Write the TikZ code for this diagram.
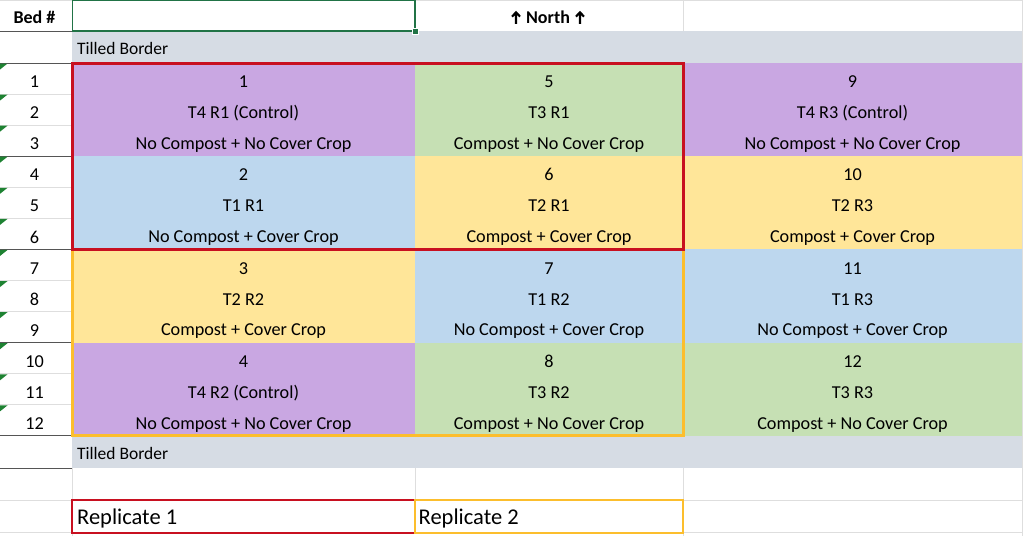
\documentclass[tikz,border=0pt]{standalone}
\usepackage{fontspec}
\setmainfont{Carlito}
\definecolor{cpurple}{RGB}{201,167,226}
\definecolor{cgreen}{RGB}{198,224,180}
\definecolor{cblue}{RGB}{189,215,238}
\definecolor{cyellow}{RGB}{255,230,153}
\definecolor{cband}{RGB}{214,220,228}
\definecolor{cred}{RGB}{200,16,32}
\definecolor{corange}{RGB}{252,190,45}
\definecolor{selgreen}{RGB}{33,115,70}
\definecolor{tri}{RGB}{30,130,50}
\definecolor{gridc}{RGB}{222,222,222}
\definecolor{darkc}{RGB}{85,85,85}
\newcommand\plotblock[8]{%
  \pgfmathsetmacro\yt{63+(#4-1)*93.24}%
  \pgfmathsetmacro\yb{\yt+93.24}%
  \pgfmathsetmacro\xc{(#2+#3)/2}%
  \fill[#5] (#2,\yt) rectangle (#3,\yb);
  \node[celltext] (#1a) at (\xc,\yt+24.6) {#6};
  \node[celltext] (#1b) at (\xc,\yt+55.6) {#7};
  \node[celltext] (#1c) at (\xc,\yt+86.5) {#8};
}
\newcommand\uparr{\tikz[baseline=0pt]{\draw[line width=2.1pt,line cap=butt,line join=miter] (0pt,0pt) -- (0pt,11.5pt) (-4pt,7.2pt) -- (0pt,11.5pt) -- (4pt,7.2pt);}}
\begin{document}
\begin{tikzpicture}[x=1pt,y=-1pt,
  celltext/.style={anchor=base,inner sep=0pt,font=\fontsize{18.2}{20}\selectfont},
  bandtext/.style={anchor=base west,inner sep=0pt,font=\fontsize{17.5}{20}\selectfont},
  reptext/.style={anchor=base west,inner sep=0pt,font=\fontsize{22.5}{24}\selectfont},
  headtext/.style={anchor=base,inner sep=0pt,font=\fontsize{18}{20}\selectfont\bfseries},
  gridline/.style={draw=gridc,line width=0.8pt},
  darkline/.style={draw=darkc,line width=1pt},
  repbox/.style={line width=1.6pt},
  bigbox/.style={line width=3pt}]
\useasboundingbox (0,0) rectangle (1024,536);
\fill[white] (0,0) rectangle (1024,536);
% light grid
\draw[gridline] (0,0.5) -- (1022,0.5);
\draw[gridline] (72,0) -- (72,536);
\draw[gridline] (415,468) -- (415,500);
\draw[gridline] (683,0) -- (683,31);
\draw[gridline] (683,468) -- (683,536);
\draw[gridline] (1022,0) -- (1022,536);
\draw[gridline] (0,500) -- (1022,500);
\draw[gridline] (0,532.5) -- (1022,532.5);
\foreach \i in {1,...,12}{
  \pgfmathsetmacro\ry{63+(\i-1)*31.08}
  \draw[gridline] (0,\ry) -- (72,\ry);
}
% bands
\fill[cband] (72,31) rectangle (1022,63);
\fill[cband] (72,435.96) rectangle (1022,468);
% blocks
\plotblock{b1}{72}{415}{1}{cpurple}{1}{T4 R1 (Control)}{No Compost + No Cover Crop}
\plotblock{b2}{72}{415}{2}{cblue}{2}{T1 R1}{No Compost + Cover Crop}
\plotblock{b3}{72}{415}{3}{cyellow}{3}{T2 R2}{Compost + Cover Crop}
\plotblock{b4}{72}{415}{4}{cpurple}{4}{T4 R2 (Control)}{No Compost + No Cover Crop}
\plotblock{b5}{415}{683}{1}{cgreen}{5}{T3 R1}{Compost + No Cover Crop}
\plotblock{b6}{415}{683}{2}{cyellow}{6}{T2 R1}{Compost + Cover Crop}
\plotblock{b7}{415}{683}{3}{cblue}{7}{T1 R2}{No Compost + Cover Crop}
\plotblock{b8}{415}{683}{4}{cgreen}{8}{T3 R2}{Compost + No Cover Crop}
\plotblock{b9}{683}{1022}{1}{cpurple}{9}{T4 R3 (Control)}{No Compost + No Cover Crop}
\plotblock{b10}{683}{1022}{2}{cyellow}{10}{T2 R3}{Compost + Cover Crop}
\plotblock{b11}{683}{1022}{3}{cblue}{11}{T1 R3}{No Compost + Cover Crop}
\plotblock{b12}{683}{1022}{4}{cgreen}{12}{T3 R3}{Compost + No Cover Crop}
% dark lines in column A
\foreach \yy in {31,63,156.24,249.48,342.72,435.96,468}{
  \draw[darkline] (0,\yy) -- (72,\yy);
}
% row numbers and markers
\foreach \i in {1,...,12}{
  \pgfmathsetmacro\ry{63+(\i-1)*31.08}
  \node[celltext] (r\i) at (34.5,\ry+24.6) {\i};
  \fill[tri] (0,\ry+0.5) -- (7.5,\ry+0.5) -- (0,\ry+6.5) -- cycle;
}
% header
\node[headtext] (bed) at (34.5,23.5) {Bed \#};
\node[headtext] (north) at (548,23.8) {\uparr\hspace{5pt}North\hspace{5pt}\uparr};
\node[bandtext] (tb1) at (77,54.5) {Tilled Border};
\node[bandtext] (tb2) at (77,459.5) {Tilled Border};
% replicate boxes
\draw[bigbox,draw=corange] (72,249.48) rectangle (683,435.96);
\draw[bigbox,draw=cred] (72,63) rectangle (683,249.48);
\draw[repbox,draw=cred] (72,500) rectangle (415,533);
\draw[repbox,draw=corange] (415,500) rectangle (683,533);
\node[reptext] (rep1) at (77,524.5) {Replicate 1};
\node[reptext] (rep2) at (418.5,524.5) {Replicate 2};
% selection
\draw[selgreen,line width=1.3pt] (72.5,0.8) rectangle (415,31);
\fill[selgreen,draw=white,line width=0.8pt] (412,28) rectangle (418,34);
\end{tikzpicture}
\end{document}
